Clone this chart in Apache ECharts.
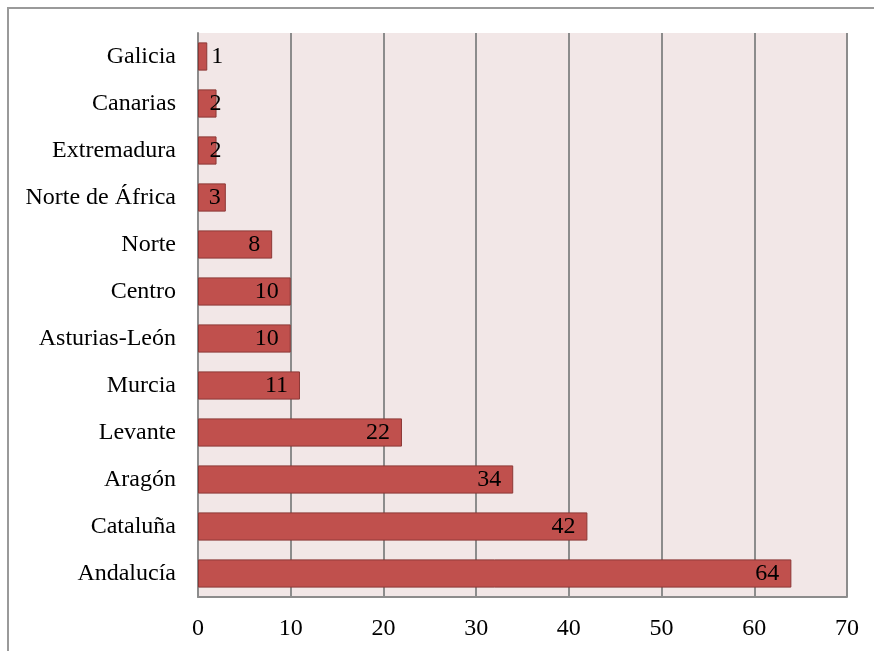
<!DOCTYPE html>
<html>
<head>
<meta charset="utf-8">
<script src="https://cdn.jsdelivr.net/npm/echarts@6/dist/echarts.min.js"></script>
<style>
  html, body { margin: 0; padding: 0; background: #fff; }
  #chart { width: 874px; height: 651px; }
</style>
</head>
<body>
<div id="chart"></div>
<script>
// regions, bottom to top (echarts category axis starts at the bottom)
let regiones = ["Andalucía", "Cataluña", "Aragón", "Levante", "Murcia", "Asturias-León",
  "Centro", "Norte", "Norte de África", "Extremadura", "Canarias", "Galicia"];
let valores = [64, 42, 34, 22, 11, 10, 10, 8, 3, 2, 2, 1];
let ticks = [0, 10, 20, 30, 40, 50, 60, 70];

let V = {};

V.labelFor = function(v){
  // tiny bars: excel pushes the number outside / over the end
  if(v <= 1) return { position: 'right', distance: 4 };
  if(v <= 2) return { position: 'insideRight', distance: -5 };
  if(v <= 3) return { position: 'insideRight', distance: 5 };
  return { position: 'insideRight', distance: 12 };
}

V.render = function(){
  var dom = document.querySelector("#chart");
  var myChart = echarts.init(dom, null, { renderer: 'canvas' });
  var font = "'Liberation Serif', 'Times New Roman', serif";

  var option = {
    animation: false,
    backgroundColor: '#ffffff',
    graphic: [{
      type: 'rect',
      shape: { x: 8, y: 8, width: 900, height: 700 },
      style: { fill: 'none', stroke: '#9a9a9a', lineWidth: 2 }
    }],
    grid: {
      left: 198, right: 27, top: 33, bottom: 54,
      show: true, backgroundColor: '#f2e7e7', borderWidth: 0
    },
    xAxis: {
      type: 'value',
      min: ticks[0],
      max: ticks[ticks.length - 1],
      interval: 10,
      axisLine: { show: true, lineStyle: { color: '#8c8c8c', width: 2 } },
      axisTick: { show: false },
      axisLabel: { color: '#000', fontFamily: font, fontSize: 24, margin: 20 },
      splitLine: { show: true, lineStyle: { color: '#8c8c8c', width: 2 } }
    },
    yAxis: {
      type: 'category',
      data: regiones,
      axisLine: { show: true, lineStyle: { color: '#8c8c8c', width: 2 } },
      axisTick: { show: false },
      axisLabel: { color: '#000', fontFamily: font, fontSize: 24, margin: 22 }
    },
    series: [{
      type: 'bar',
      barCategoryGap: '40%',
      data: valores.map(v => ({ value: v, label: V.labelFor(v) })),
      itemStyle: { color: '#c0504d', borderColor: '#8c3836', borderWidth: 1 },
      label: {
        show: true,
        color: '#000',
        fontFamily: font,
        fontSize: 24
      }
    }]
  };

  myChart.setOption(option);
}

V.render();
</script>
</body>
</html>
